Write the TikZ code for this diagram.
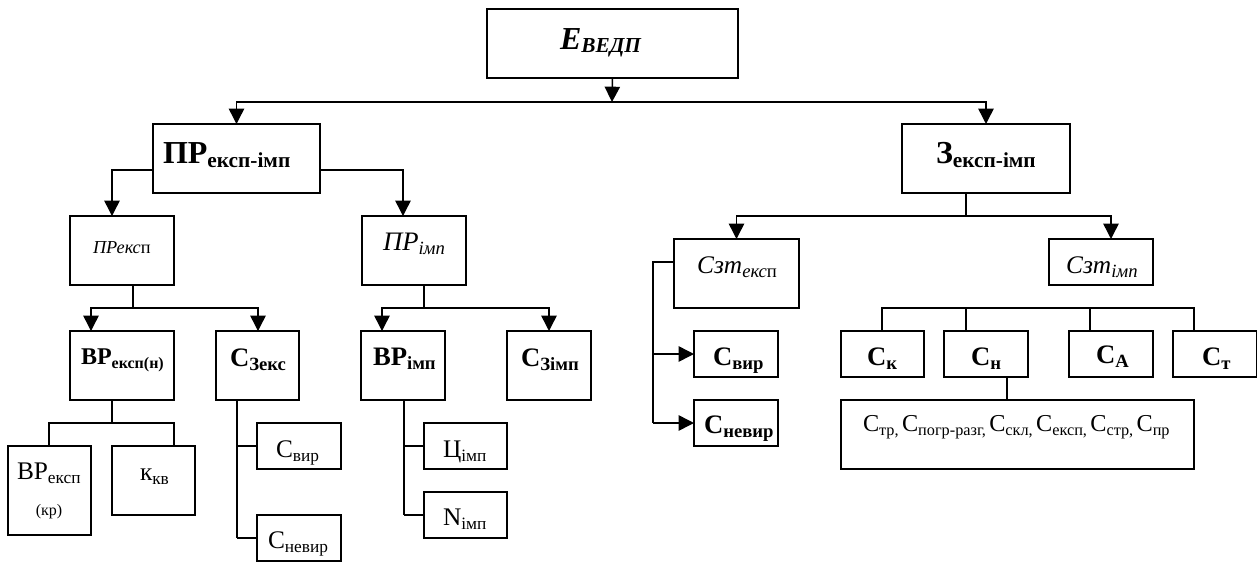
\documentclass[tikz,border=0pt]{standalone}
\usepackage{fontspec}
\setmainfont{Liberation Serif}
\usetikzlibrary{arrows.meta}
\tikzset{
  box/.style={draw=black,line width=1.1pt,inner sep=0pt,outer sep=0pt},
  txt/.style={anchor=base west,inner sep=0pt,outer sep=0pt,text=black},
  conn/.style={draw=black,line width=1.1pt},
  arr/.style={conn,-{Triangle[length=11.5pt,width=11.5pt]}}
}
% \bx{name}{x1}{y1}{x2}{y2}{textx}{texty}{text}
\newcommand\bx[8]{%
  \node[box,minimum width={(#4-#2)*0.75pt},minimum height={(#5-#3)*0.75pt}] (#1) at ({(#2+#4)/2},{(#3+#5)/2}) {};
  \node[txt] (#1t) at (#6,#7) {#8};}
\newcommand\fs[1]{\fontsize{#1}{#1}\selectfont}
\newcommand\lo[2]{\raisebox{-#1pt}{#2}}
\newcommand\Rg[2]{{\fs{19}#1\lo{3}{\fs{13}#2}}}
\newcommand\Rs[2]{{\fs{18.2}#1\lo{3}{\fs{12.2}#2}}}
\newcommand\Bd[2]{{\bfseries\fs{19}#1\lo{3}{\fs{13}#2}}}
\newcommand\Bp[2]{{\bfseries\fs{20}#1\lo{3}{\fs{14}#2}}}
\newcommand\It[2]{{\itshape\fs{20}#1\lo{3}{\fs{14}#2}}}
\begin{document}
\begin{tikzpicture}[x=0.75pt,y=-0.75pt]
\useasboundingbox (0,0) rectangle (1257,561);
\bx{top}{487}{9}{738}{78}{560}{49}{{\bfseries\itshape\fs{24}E\lo{2.5}{\fs{16}ВЕДП}}}
\bx{pr}{153}{124}{320}{193}{163}{163}{{\bfseries\fs{24}ПР\lo{3}{\fs{16}експ-імп}}}
\bx{z}{902}{124}{1070}{193}{936}{163}{{\bfseries\fs{24}З\lo{3}{\fs{16}експ-імп}}}
\bx{pre}{70}{216}{174}{285}{93}{253}{{\itshape\fs{13.7}ПРекс\upshape п}}
\bx{pri}{362}{216}{466}{285}{383}{250}{\It{ПР}{імп}}
\bx{bpe}{70}{331}{174}{400}{81}{364}{{\bfseries\fs{18}ВР\lo{3}{\fs{12}експ(н)}}}
\bx{sze}{216}{331}{299}{400}{230}{366}{\Bp{С}{Зекс}}
\bx{bpi}{361}{331}{445}{400}{373}{365}{\Bp{ВР}{імп}}
\bx{szi}{507}{331}{591}{400}{521}{366}{\Bp{С}{Зімп}}
\bx{bpk}{8}{446}{91}{535}{17}{479}{\Rg{ВР}{експ}}
\node[txt,anchor=base] (kr) at (49,515) {\fs{12}(кр)};
\bx{kkv}{112}{446}{195}{515}{140}{480}{\Rg{к}{кв}}
\bx{svir}{257}{423}{341}{469}{276}{457}{\Rg{С}{вир}}
\bx{snev}{257}{515}{341}{561}{268}{548}{\Rg{С}{невир}}
\bx{cimp}{424}{423}{507}{469}{443}{457}{\Rg{Ц}{імп}}
\bx{nimp}{424}{492}{507}{538}{443}{525}{\Rg{N}{імп}}
\bx{sze2}{674}{239}{799}{308}{697}{273}{{\itshape\fs{19}Сзт\lo{3}{\fs{14}екс\upshape п}}}
\bx{szi2}{1049}{239}{1153}{285}{1066}{273}{{\itshape\fs{19}Сзт\lo{3}{\fs{14}імп}}}
\bx{sv}{694}{331}{778}{377}{713}{365}{\Bp{С}{вир}}
\bx{sn}{694}{400}{778}{446}{704}{433}{\Bp{С}{невир}}
\bx{ck}{841}{331}{924}{377}{867}{365}{\Bp{С}{к}}
\bx{cn}{944}{331}{1028}{377}{971}{365}{\Bp{С}{н}}
\bx{ca}{1069}{331}{1153}{377}{1096}{363}{\Bp{С}{А}}
\bx{ct}{1173}{331}{1257}{377}{1202}{365}{\Bp{С}{т}}
\bx{big}{841}{400}{1194}{469}{863}{431}{\Rs{С}{тр,} \Rs{С}{погр-разг,} \Rs{С}{скл,} \Rs{С}{експ,} \Rs{С}{стр,} \Rs{С}{пр}}
% junctions
\coordinate (j0) at (612,102);
\coordinate (jprl) at (153,170);
\coordinate (jprr) at (320,170);
\coordinate (j1) at (133,308);
\coordinate (j2) at (424,308);
\coordinate (j3) at (966,216);
\coordinate (j4) at (112,423);
\coordinate (j5) at (966,308);
\coordinate (j6) at (653,262);
% top
\draw[arr] (top.south) -- (j0);
\draw[arr] (j0) -| (pr.north);
\draw[arr] (j0) -| (z.north);
% pr
\draw[arr] (jprl) -| (112,216);
\draw[arr] (jprr) -| (403,216);
% lower left
\draw[conn] (133,285) -- (j1);
\draw[arr] (j1) -| (91,331);
\draw[arr] (j1) -| (258,331);
\draw[conn] (424,285) -- (j2);
\draw[arr] (j2) -| (382,331);
\draw[arr] (j2) -| (549,331);
% z
\draw[conn] (966,193) -- (j3);
\draw[arr] (j3) -| (sze2.north);
\draw[arr] (j3) -| (1111,239);
% bpe
\draw[conn] (112,400) -- (j4);
\draw[conn] (j4) -| (49,446);
\draw[conn] (j4) -| (174,446);
% sze
\draw[conn] (237,400) -- (237,538);
\draw[conn] (237,446) -- (257,446);
\draw[conn] (237,538) -- (257,538);
% bpi
\draw[conn] (404,400) -- (404,515);
\draw[conn] (404,446) -- (424,446);
\draw[conn] (404,515) -- (424,515);
% sze2
\draw[conn] (674,262) -- (j6) -- (653,423);
\draw[arr] (653,354) -- (sv.west);
\draw[arr] (653,423) -- (sn.west);
% costs
\draw[conn] (882,331) |- (1194,308) -- (1194,331);
\draw[conn] (j5) -- (966,331);
\draw[conn] (1090,308) -- (1090,331);
\draw[conn] (1007,377) -- (1007,400);
\end{tikzpicture}
\end{document}
